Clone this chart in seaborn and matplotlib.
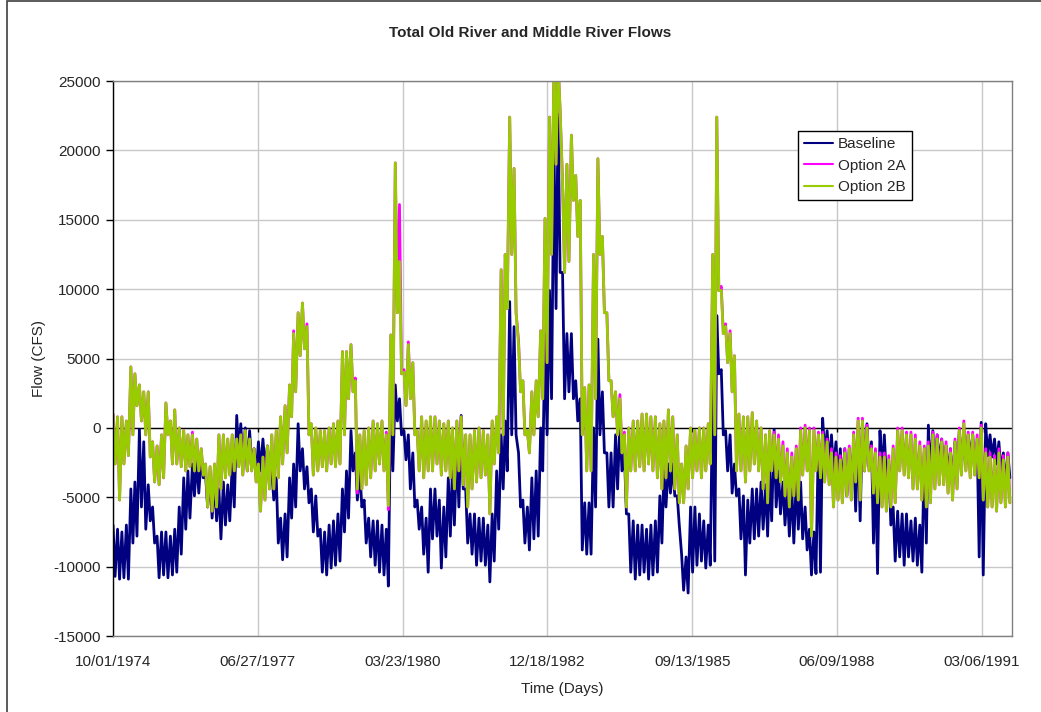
import numpy as np
import pandas as pd
import seaborn as sns
import matplotlib.pyplot as plt
import matplotlib.dates as mdates
from matplotlib.patches import Rectangle

# monthly high / low flow (CFS), one row per water year (Oct-Sep), WY1975-WY1991
baseline_hi = [
    -7000, -7300, -7500, -7000, -4400, -3900, -100, -1000, -4100, -5700, -7800, -7500,
    -7500, -7800, -7300, -5700, -3600, -3100, -2600, -2300, -2100, -3400, -3600, -3900,
    -4400, -3900, -4100, -2600, 900, 300, 0, -200, -1500, -1000, -800, -1300,
    -3100, -3600, -6500, -6200, -3600, -2600, 300, -1500, -2800, -4400, -4900, -7300,
    -7500, -7000, -6700, -6200, -4400, -3100, -200, -1800, -3100, -5200, -6500, -6700,
    -6700, -7000, -7300, 2900, 3100, 2100, -200, -500, -1800, -5200, -5700, -6500,
    -4400, -4400, -5200, -5700, -3600, -3100, -1300, 900, -4400, -6200, -6200, -6500,
    -6500, -7000, -6200, -3100, -500, 500, 9100, 7300, -1800, -5200, -5700, -3600,
    -3100, 0, 6800, 9900, 20300, 22600, 11200, 6800, 6800, 3400, 2100, -5400,
    -5400, 0, 6400, 2600, -1800, -1800, -500, 500, -1800, -6200, -6700, -7000,
    -7000, -7300, -7000, -6700, -4900, -3100, -2600, -2600, -4900, -9100, -9300, -5700,
    -5700, -6200, -6700, -7000, 3400, 8100, 4200, -200, -500, -2600, -4400, -4900,
    -5200, -4400, -4400, -3900, -4100, -3100, -100, -3100, -3900, -4400, -4400, -3600,
    -3900, -5700, -7300, -7500, -500, 700, -200, -500, -1000, -1500, -1500, -1500,
    -1500, -500, 500, 300, -1000, -2600, -200, -500, -2600, -5700, -6000, -6200,
    -6200, -6700, -6500, -7000, -1800, 200, -200, -500, -800, -1300, -1500, -1000,
    -200, -200, -500, -500, -1000, 400, 300, -500, -800, -1000, -1800, -1800,
]
baseline_lo = [
    -10700, -10900, -10800, -10900, -8300, -7800, -5700, -7300, -6700, -8300, -10800, -10600,
    -10800, -10600, -10400, -9100, -7300, -6500, -4900, -4700, -3600, -5700, -6500, -6700,
    -8000, -7000, -6700, -5700, -2000, -2600, -3100, -2600, -3400, -3100, -2800, -3400,
    -5200, -8300, -9500, -9300, -6500, -5700, -3100, -4400, -5400, -7500, -7800, -10400,
    -10600, -10100, -9900, -9600, -7500, -6500, -3100, -5200, -5700, -8300, -9300, -9900,
    -10400, -10600, -11400, -3100, 500, -500, -2300, -4400, -5700, -7300, -9100, -10400,
    -8000, -7800, -10100, -9300, -7800, -7000, -5700, -4400, -8300, -9100, -9900, -9600,
    -9900, -11100, -9600, -7300, -4400, -3100, -500, -500, -5700, -8300, -8800, -8000,
    -7800, -3100, -500, 2100, 8600, 11200, 2100, 2600, 2100, 500, -8800, -9100,
    -9100, -5700, -500, -1800, -5700, -5700, -4400, -3100, -6200, -10400, -10900, -10600,
    -10400, -10900, -10600, -10400, -8300, -5700, -4700, -4900, -7000, -11700, -11900, -10400,
    -9900, -9600, -10100, -9900, -9600, 3900, -500, -3100, -4700, -4900, -8000, -10600,
    -8300, -8000, -7800, -7300, -7800, -6700, -5700, -6200, -7000, -7800, -8300, -7300,
    -8000, -8800, -10600, -10500, -10400, -1800, -2600, -3100, -3600, -4400, -4900, -3600,
    -6000, -6700, -3100, -2800, -8300, -10500, -3100, -3600, -7000, -9600, -9300, -9900,
    -9300, -9600, -9900, -10400, -8300, -3100, -2800, -2600, -3100, -3400, -4400, -3600,
    -2800, -2600, -2300, -2800, -9300, -10600, -2000, -2100, -2600, -3100, -4400, -3600,
]

option_2a_hi = [
    1000, 800, 800, 500, 4400, 3900, 3100, 2600, 2600, -1000, -1300, -500,
    1800, 500, 1300, 0, -200, -500, -300, -800, -1500, -2600, -2800, -2600,
    -500, -500, -800, -500, -800, -500, -200, -800, -1500, -2600, -2100, -1300,
    -500, -200, 800, 1600, 3100, 7000, 8300, 9000, 7500, 300, 0, -200,
    -200, 0, 300, 500, 5500, 5500, 6000, 3600, -500, -200, 0, 500,
    300, 500, -300, 6700, 19100, 16100, 4200, 6200, 4700, -200, 800, 500,
    800, 800, 500, 300, 500, 0, 500, 800, -500, -500, -200, 0,
    -200, -500, 500, 800, 11400, 12500, 22400, 18700, 6300, 3400, -200, 2600,
    3400, 7000, 15100, 22400, 26500, 26500, 17700, 19000, 21100, 18200, 16400, 2900,
    3100, 12500, 19400, 13800, 8300, 3400, 2600, 2400, -300, 0, 500, 500,
    1000, 1000, 800, 800, 300, 500, 1300, 800, -500, -2600, -1300, 0,
    -200, 0, 0, 300, 12500, 22400, 10200, 7500, 7000, 5200, 1000, 800,
    800, 1100, 500, 0, -500, -200, -300, -500, -1000, -1500, -1800, -1300,
    0, 200, 0, 0, -300, -300, -800, -1500, -1800, -2000, -1500, -1300,
    -300, 700, 700, 200, -1300, -1500, -1800, -1800, -2000, -1300, 0, 0,
    -300, -300, -500, -1000, -1300, -1000, -300, -500, -800, -1000, -1500, -800,
    0, 500, -300, -300, -500, 200, -1500, -1800, -2000, -1500, -2000, -1800,
]
option_2a_lo = [
    -2600, -5200, -2600, -2000, -500, 1600, 500, -500, -2100, -3900, -4100, -3600,
    -500, -2600, -2600, -2800, -3100, -2800, -3100, -3100, -3400, -5700, -6000, -5700,
    -4400, -3600, -3400, -3100, -2800, -3400, -3100, -3100, -3900, -6000, -5200, -4400,
    -4400, -3600, -2600, -1800, 800, 2600, 5200, 5700, -500, -3400, -3100, -2800,
    -3100, -2600, -2800, -2600, -500, 2100, 2600, -4700, -4400, -4100, -3600, -3100,
    -2600, -3100, -5900, -500, 8300, 3900, 1600, 2100, -500, -3100, -3600, -3100,
    -3100, -2600, -3400, -3100, -3600, -4400, -3100, -4100, -5700, -4400, -3900, -3600,
    -3400, -6200, -2600, -1800, -500, 8600, 12500, 8300, 2600, -500, -1800, -500,
    800, 2100, 4700, 12500, 19000, 22900, 11200, 12000, 16400, 13800, -500, -3100,
    -3100, 2100, 12500, 8300, 3400, 800, -500, -1800, -5700, -3100, -3100, -2800,
    -3100, -2600, -3100, -3600, -4400, -3600, -3100, -4400, -5400, -5400, -4400, -3600,
    -3100, -3600, -3100, -2600, -500, 9900, 6800, 4700, 2600, -3100, -3100, -3900,
    -3100, -2600, -3100, -4400, -5400, -3100, -3600, -3900, -4900, -5700, -4900, -5200,
    -3400, -3100, -7800, -3100, -3600, -3900, -4100, -5700, -5200, -5400, -4900, -5200,
    -3900, -5200, -3100, -3100, -4700, -5400, -5700, -6000, -5700, -5400, -3100, -3400,
    -3600, -4400, -4400, -5200, -5700, -5400, -4400, -4100, -4100, -4700, -5200, -4400,
    -3400, -3100, -3600, -3400, -3600, -5200, -5700, -5700, -6000, -5400, -5700, -5400,
]

option_2b_hi = [
    1000, 800, 800, 500, 4400, 3900, 3100, 2600, 2600, -1000, -1300, -500,
    1800, 500, 1300, 0, -200, -500, -500, -800, -1500, -2600, -2800, -2600,
    -500, -500, -800, -500, -800, -500, -200, -800, -1500, -2600, -2100, -1300,
    -500, -200, 800, 1600, 3100, 6800, 8300, 9000, 7300, 300, 0, -200,
    -200, 0, 300, 500, 5500, 5500, 6000, 3400, -500, -200, 0, 500,
    300, 500, -500, 6700, 19100, 12000, 4000, 6000, 4700, -200, 800, 500,
    800, 800, 500, 300, 500, 0, 500, 800, -500, -500, -200, 0,
    -200, -500, 500, 800, 11400, 12500, 22400, 18700, 6000, 3400, -200, 2600,
    3400, 7000, 15100, 22400, 26500, 26500, 17700, 19000, 21100, 18200, 16400, 2900,
    3100, 12500, 19400, 13800, 8300, 3400, 2600, 2100, -500, 0, 500, 500,
    1000, 1000, 800, 800, 300, 500, 1300, 800, -500, -2600, -1300, 0,
    -200, 0, 0, 300, 12500, 22400, 9900, 7300, 6800, 5200, 1000, 800,
    800, 1100, 500, 0, -500, -200, -500, -800, -1300, -1800, -2100, -1500,
    -200, 0, -200, -200, -500, -500, -1000, -1800, -2100, -2300, -1800, -1500,
    -500, 500, 500, 0, -1500, -1800, -2100, -2100, -2300, -1500, -200, -200,
    -500, -500, -800, -1300, -1500, -1300, -500, -800, -1000, -1300, -1800, -1000,
    -200, 300, -500, -500, -800, 0, -1800, -2100, -2300, -1800, -2300, -2100,
]
option_2b_lo = [
    -2600, -5200, -2600, -2000, -500, 1600, 500, -500, -2100, -3900, -4100, -3600,
    -500, -2600, -2600, -2800, -3100, -2800, -3100, -3100, -3400, -5700, -6000, -5700,
    -4400, -3600, -3400, -3100, -2800, -3400, -3100, -3100, -3900, -6000, -5200, -4400,
    -4400, -3600, -2600, -1800, 800, 2600, 5200, 5700, -500, -3400, -3100, -2800,
    -3100, -2600, -2800, -2600, -500, 2100, 2600, -4400, -4400, -4100, -3600, -3100,
    -2600, -3100, -5600, -500, 8300, 3900, 1600, 2100, -500, -3100, -3600, -3100,
    -3100, -2600, -3400, -3100, -3600, -4400, -3100, -4100, -5700, -4400, -3900, -3600,
    -3400, -6200, -2600, -1800, -500, 8600, 12500, 8300, 2600, -500, -1800, -500,
    800, 2100, 4700, 12500, 19000, 22900, 11200, 12000, 16400, 13800, -500, -3100,
    -3100, 2100, 12500, 8300, 3400, 800, -500, -1800, -5700, -3100, -3100, -2800,
    -3100, -2600, -3100, -3600, -4400, -3600, -3100, -4400, -5400, -5400, -4400, -3600,
    -3100, -3600, -3100, -2600, -500, 9900, 6800, 4700, 2600, -3100, -3100, -3900,
    -3100, -2600, -3100, -4400, -5400, -3100, -3600, -3900, -4900, -5700, -4900, -5200,
    -3400, -3100, -7800, -3100, -3600, -3900, -4100, -5700, -5200, -5400, -4900, -5200,
    -3900, -5200, -3100, -3100, -4700, -5400, -5700, -6000, -5700, -5400, -3100, -3400,
    -3600, -4400, -4400, -5200, -5700, -5400, -4400, -4100, -4100, -4700, -5200, -4400,
    -3400, -3100, -3600, -3400, -3600, -5200, -5700, -5700, -6000, -5400, -5700, -5400,
]

series_names = ['Baseline', 'Option 2A', 'Option 2B']
x_tick_dates = ['1974-10-01', '1977-06-27', '1980-03-23', '1982-12-18',
                '1985-09-13', '1988-06-09', '1991-03-06']
y_ticks = [-15000, -10000, -5000, 0, 5000, 10000, 15000, 20000, 25000]

# two readings per month (1st and 15th), high then low
dates = pd.date_range('1974-10-01', periods=2 * len(baseline_hi), freq='SMS')

def zig(hi, lo):
    return np.column_stack([hi, lo]).ravel()

frames = []
for name, hi, lo in zip(series_names,
                        [baseline_hi, option_2a_hi, option_2b_hi],
                        [baseline_lo, option_2a_lo, option_2b_lo]):
    frames.append(pd.DataFrame({'date': dates, 'flow': zig(hi, lo), 'series': name}))
df = pd.concat(frames, ignore_index=True)

sns.set_style('white')
plt.rcParams['font.family'] = ['Liberation Sans', 'DejaVu Sans']
plt.rcParams['axes.unicode_minus'] = False

fig = plt.figure(figsize=(10.41, 7.12), dpi=100)
ax = fig.add_axes([0.1086, 0.1067, 0.8636, 0.7795])

sns.lineplot(data=df, x='date', y='flow', hue='series', hue_order=series_names,
             palette=['#000080', '#FF00FF', '#99CC00'], linewidth=2.0, ax=ax,
             estimator=None, sort=False)

# Excel style: category axis crosses at zero, with small tick marks on it
ticks = pd.to_datetime(x_tick_dates)
ax.axhline(0, color='black', linewidth=1, zorder=1.5)
ax.vlines(ticks, -300, 0, color='black', linewidth=1, zorder=1.5)

ax.set_xlim(pd.Timestamp('1974-10-01'), pd.Timestamp('1991-09-30'))
ax.set_ylim(-15000, 25000)
ax.set_yticks(y_ticks)
ax.set_xticks(ticks)
ax.xaxis.set_major_formatter(mdates.DateFormatter('%m/%d/%Y'))

ax.grid(True, color='#c8c8c8', linewidth=1)
ax.set_axisbelow(True)
ax.tick_params(axis='y', direction='out', length=5, width=1, color='black',
               labelsize=11, pad=4, left=True)
ax.tick_params(axis='x', length=0, labelsize=11, pad=14, bottom=True)
ax.spines['left'].set_color('black')
ax.spines['left'].set_linewidth(1)
for side in ['top', 'right', 'bottom']:
    ax.spines[side].set_color('#808080')
    ax.spines[side].set_linewidth(1)

ax.set_xlabel('Time (Days)', fontsize=11, labelpad=9)
ax.set_ylabel('Flow (CFS)', fontsize=11, labelpad=5)
ax.set_title('Total Old River and Middle River Flows', fontsize=11,
             fontweight='bold', pad=32, x=0.464)

handles, labels = ax.get_legend_handles_labels()
leg = ax.legend(handles, labels, loc='upper left', bbox_to_anchor=(0.762, 0.91),
                borderaxespad=0, frameon=True, fancybox=False, framealpha=1,
                edgecolor='black', fontsize=11, handlelength=1.9, handletextpad=0.3,
                labelspacing=0.5, borderpad=0.4)
leg.get_frame().set_linewidth(1)
for line in leg.get_lines():
    line.set_linewidth(1.5)

fig.patches.append(Rectangle((0.0065, -0.05), 1.1, 1.0486, transform=fig.transFigure,
                             fill=False, edgecolor='#404040', linewidth=1.2))

plt.savefig('out.png', dpi=100)
